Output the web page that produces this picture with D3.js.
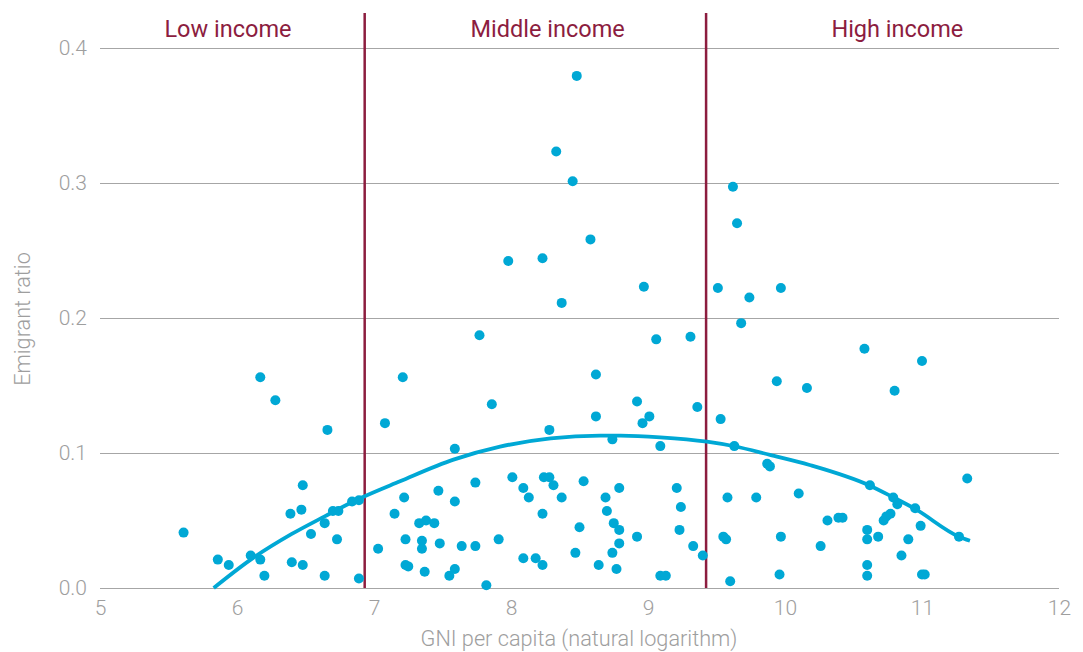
<!DOCTYPE html>
<html>
<head>
<meta charset="utf-8">
<script src="https://cdn.jsdelivr.net/npm/d3@7"></script>
<style>
  html, body { margin: 0; padding: 0; background: #fff; }
  svg { display: block; font-family: Roboto, "Noto Sans", sans-serif; }
</style>
</head>
<body>
<svg id="chart" width="1083" height="652"></svg>
<script>
// ---- data ----
const gniLog = [
  5.61, 6.17, 6.28, 6.66, 6.48, 6.47, 6.39, 6.70, 6.74, 6.84, 6.89, 6.64, 6.54, 6.73, 5.86, 5.94, 6.10, 6.17, 6.20, 6.40, 6.48, 6.64, 6.89,
  7.03, 7.08, 7.15, 7.22, 7.23, 7.23, 7.25, 7.21, 7.33, 7.38, 7.44, 7.35, 7.35, 7.37, 7.47, 7.48, 7.55, 7.59, 7.59, 7.59, 7.64, 7.74, 7.74,
  7.77, 7.82, 7.86, 7.91, 7.98, 8.01, 8.09, 8.13, 8.09, 8.18, 8.23, 8.23, 8.23, 8.24, 8.28, 8.28, 8.31, 8.33, 8.37, 8.37, 8.45, 8.47, 8.48,
  8.50, 8.53, 8.58, 8.62, 8.62, 8.64, 8.69, 8.70, 8.74, 8.74, 8.75, 8.77, 8.79, 8.79, 8.79, 8.92, 8.92, 8.96, 8.97, 9.01, 9.06, 9.09, 9.09,
  9.13, 9.21, 9.23, 9.24, 9.31, 9.33, 9.36, 9.40,
  9.51, 9.53, 9.55, 9.57, 9.58, 9.60, 9.62, 9.63, 9.65, 9.68, 9.74, 9.79, 9.87, 9.89, 9.94, 9.96, 9.97, 9.97, 10.10, 10.16, 10.26, 10.31,
  10.39, 10.42, 10.58, 10.60, 10.60, 10.60, 10.60, 10.62, 10.68, 10.72, 10.74, 10.77, 10.79, 10.80, 10.82, 10.85, 10.90, 10.95, 10.99,
  11.00, 11.00, 11.02, 11.27, 11.33
];
const emigrantRatio = [
  0.041, 0.156, 0.139, 0.117, 0.076, 0.058, 0.055, 0.057, 0.057, 0.064, 0.065, 0.048, 0.040, 0.036, 0.021, 0.017, 0.024, 0.021, 0.009, 0.019, 0.017, 0.009, 0.007,
  0.029, 0.122, 0.055, 0.067, 0.036, 0.017, 0.016, 0.156, 0.048, 0.050, 0.048, 0.035, 0.029, 0.012, 0.072, 0.033, 0.009, 0.014, 0.064, 0.103, 0.031, 0.031, 0.078,
  0.187, 0.002, 0.136, 0.036, 0.242, 0.082, 0.074, 0.067, 0.022, 0.022, 0.017, 0.055, 0.244, 0.082, 0.082, 0.117, 0.076, 0.323, 0.067, 0.211, 0.301, 0.026, 0.379,
  0.045, 0.079, 0.258, 0.158, 0.127, 0.017, 0.067, 0.057, 0.110, 0.026, 0.048, 0.014, 0.043, 0.074, 0.033, 0.038, 0.138, 0.122, 0.223, 0.127, 0.184, 0.105, 0.009,
  0.009, 0.074, 0.043, 0.060, 0.186, 0.031, 0.134, 0.024,
  0.222, 0.125, 0.038, 0.036, 0.067, 0.005, 0.297, 0.105, 0.270, 0.196, 0.215, 0.067, 0.092, 0.090, 0.153, 0.010, 0.038, 0.222, 0.070, 0.148, 0.031, 0.050,
  0.052, 0.052, 0.177, 0.043, 0.036, 0.017, 0.009, 0.076, 0.038, 0.050, 0.053, 0.055, 0.067, 0.146, 0.062, 0.024, 0.036, 0.059, 0.046,
  0.168, 0.010, 0.010, 0.038, 0.081
];
// fitted trend curve
const trendX = [5.83, 6.10, 6.40, 6.64, 6.89, 7.19, 7.58, 7.92, 8.29, 8.65, 8.80, 9.09, 9.43, 9.63, 9.89, 10.18, 10.62, 10.79, 10.95, 11.27, 11.35];
const trendY = [0.0, 0.021, 0.040, 0.053, 0.066, 0.079, 0.095, 0.1046, 0.1108, 0.1127, 0.1127, 0.1115, 0.1083, 0.1049, 0.0985, 0.091, 0.0757, 0.0671, 0.0585, 0.038, 0.035];
// income group thresholds and labels
const thresholds = [6.932, 9.424];
const groupLabels = ["Low income", "Middle income", "High income"];
const groupLabelX = [5.934, 8.268, 10.82];
const xTicks = [5, 6, 7, 8, 9, 10, 11, 12];
const yTicks = [0, 0.1, 0.2, 0.3, 0.4];

// ---- drawing ----
const svg = d3.select("#chart");
const x = d3.scaleLinear().domain([5, 12]).range([100, 1059]);
const y = d3.scaleLinear().domain([0, 0.4]).range([588, 47.5]);

const accent = "#8c1d3f";
const dotColor = "#00a8d5";
const tickColor = "#9e9e9e";

// gridlines
svg.append("g").selectAll("line").data(yTicks).join("line")
  .attr("x1", x(5)).attr("x2", x(12))
  .attr("y1", d => Math.round(y(d)) + 0.5).attr("y2", d => Math.round(y(d)) + 0.5)
  .attr("stroke", "#a6a6a6").attr("stroke-width", 1);

// y axis labels
const yAxis = d3.axisLeft(y).tickValues(yTicks).tickFormat(d3.format(".1f")).tickSize(0).tickPadding(13);
const gy = svg.append("g").attr("transform", `translate(${x(5)},0)`).call(yAxis);
gy.select(".domain").remove();
gy.selectAll("text").attr("fill", tickColor).style("font-size", "21px").style("font-weight", 300)
  .style("font-family", "Roboto, sans-serif");

// x axis labels
const xAxis = d3.axisBottom(x).tickValues(xTicks).tickFormat(d3.format("d")).tickSize(0).tickPadding(12);
const gx = svg.append("g").attr("transform", `translate(0,${y(0)})`).call(xAxis);
gx.select(".domain").remove();
gx.selectAll("text").attr("fill", tickColor).style("font-size", "21px").style("font-weight", 300)
  .style("font-family", "Roboto, sans-serif");

// axis titles
svg.append("text").attr("x", 579).attr("y", 646).attr("text-anchor", "middle")
  .attr("fill", tickColor).style("font-size", "21.7px").style("font-weight", 300)
  .text("GNI per capita (natural logarithm)");
svg.append("text").attr("transform", "translate(30,319) rotate(-90)").attr("text-anchor", "middle")
  .attr("fill", tickColor).style("font-size", "21.7px").style("font-weight", 300)
  .text("Emigrant ratio");

// threshold lines
svg.append("g").selectAll("line").data(thresholds).join("line")
  .attr("x1", d => x(d)).attr("x2", d => x(d))
  .attr("y1", 13).attr("y2", y(0))
  .attr("stroke", accent).attr("stroke-width", 2.5);

// group labels
svg.append("g").selectAll("text").data(groupLabels).join("text")
  .attr("x", (d, i) => x(groupLabelX[i])).attr("y", 37)
  .attr("text-anchor", "middle").attr("fill", accent)
  .style("font-size", "23.5px").text(d => d);

// points
const pts = gniLog.map((g, i) => ({ g, r: emigrantRatio[i] }));
svg.append("g").selectAll("circle").data(pts).join("circle")
  .attr("cx", d => x(d.g)).attr("cy", d => y(d.r)).attr("r", 5)
  .attr("fill", dotColor);

// trend curve
const trend = trendX.map((t, i) => [t, trendY[i]]);
svg.append("path").datum(trend)
  .attr("d", d3.line().x(d => x(d[0])).y(d => y(d[1])).curve(d3.curveMonotoneX))
  .attr("fill", "none").attr("stroke", dotColor).attr("stroke-width", 3.8);
</script>
</body>
</html>
